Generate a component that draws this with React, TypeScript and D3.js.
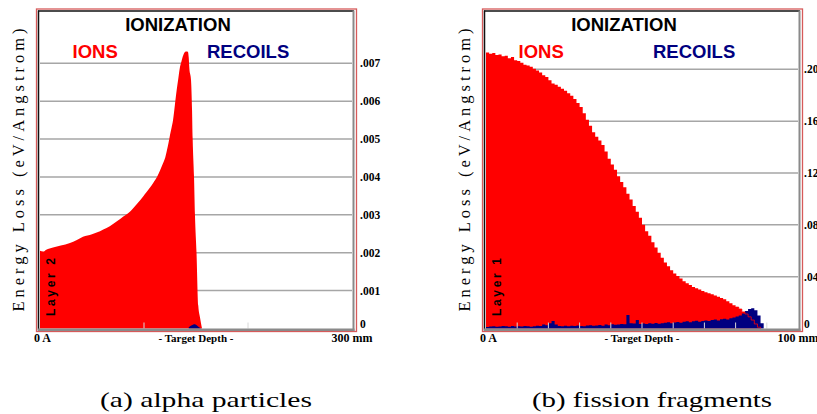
import React from "react";
import * as d3 from "d3";

// ---------- DATA ----------
// (a) alpha particles: depth (0..300) and ionization energy loss
const alphaDepth = [0, 3, 6, 12.5, 20, 28.8, 35, 41.3, 50, 57.7, 64, 70.2, 75, 79.8, 85, 89.4, 94, 99.0, 102.5, 105.8, 109, 112.5, 115.5, 118.3, 120.5, 122.1, 123.6, 125.0, 126.5, 127.9, 129.7, 131.4, 133.0, 134.6, 136.0, 137.2, 138.3, 139.4, 141, 142.3, 143.0, 143.6, 145.2, 146.2, 146.8, 148.1, 149.0, 150.5, 152.2, 153.8, 155.8];
const alphaIons = [0.00205, 0.00203, 0.00208, 0.00214, 0.00219, 0.00226, 0.00233, 0.00242, 0.00249, 0.00257, 0.00265, 0.00276, 0.00285, 0.00295, 0.00305, 0.00317, 0.00331, 0.00348, 0.0036, 0.00372, 0.00385, 0.004, 0.00418, 0.00436, 0.00452, 0.00471, 0.0049, 0.00511, 0.0053, 0.0055, 0.0059, 0.00629, 0.0066, 0.0069, 0.00705, 0.00717, 0.00725, 0.0073, 0.00731, 0.0073, 0.00715, 0.00687, 0.00656, 0.00576, 0.005, 0.004, 0.003, 0.002, 0.0006, 0.0003, 0];
const alphaRecoilDepth = [143, 145, 147, 149, 151, 153, 155];
const alphaRecoils = [0.00003, 0.00007, 0.0001, 0.00011, 0.00008, 0.00003, 0];
const alphaTicks = [0.001, 0.002, 0.003, 0.004, 0.005, 0.006, 0.007];
const alphaTickLabels = [".001", ".002", ".003", ".004", ".005", ".006", ".007"];
const alphaDepthTicks = [100, 200];

// (b) fission fragments: 1-unit depth bins (0..100)
const fissionIons = [
  0.213, 0.212, 0.2125, 0.211, 0.2115, 0.21, 0.2105, 0.2085, 0.2095, 0.207,
  0.2065, 0.205, 0.2035, 0.203, 0.202, 0.2005, 0.199, 0.1975, 0.1955, 0.194,
  0.1915, 0.189, 0.188, 0.1865, 0.185, 0.1835, 0.1815, 0.1795, 0.177, 0.174,
  0.171, 0.166, 0.161, 0.1565, 0.1515, 0.148, 0.145, 0.1415, 0.1365, 0.131,
  0.1265, 0.1225, 0.1175, 0.113, 0.109, 0.104, 0.0995, 0.0945, 0.09, 0.0855,
  0.08, 0.075, 0.0715, 0.0665, 0.0625, 0.0585, 0.0545, 0.051, 0.048, 0.045,
  0.0425, 0.0405, 0.0385, 0.0365, 0.035, 0.0335, 0.032, 0.031, 0.03, 0.029,
  0.028, 0.0272, 0.0265, 0.0255, 0.0245, 0.0235, 0.0225, 0.021, 0.0195, 0.018,
  0.0165, 0.015, 0.0128, 0.0112, 0.009, 0.0065, 0.0035, 0.001,
];
const fissionRecoils = [
  0.0012, 0.0015, 0.0018, 0.0014, 0.0016, 0.002, 0.0017, 0.0013, 0.0019, 0.0015,
  0.0018, 0.0016, 0.002, 0.0017, 0.0014, 0.0018, 0.0022, 0.0019, 0.003, 0.0025,
  0.004, 0.0058, 0.003, 0.002, 0.0018, 0.0022, 0.0017, 0.0021, 0.0019, 0.0024,
  0.002, 0.0018, 0.0023, 0.0026, 0.0021, 0.0024, 0.0027, 0.0022, 0.003, 0.0025,
  0.0032, 0.0028, 0.003, 0.0035, 0.0033, 0.0104, 0.004, 0.0038, 0.0066, 0.0035,
  0.0038, 0.0034, 0.004, 0.0036, 0.0042, 0.0037, 0.004, 0.0044, 0.0048, 0.004,
  0.0046, 0.005, 0.0045, 0.0052, 0.0055, 0.0048, 0.0056, 0.006, 0.0052, 0.0058,
  0.0062, 0.0058, 0.0066, 0.007, 0.0062, 0.0072, 0.0076, 0.007, 0.008, 0.0085,
  0.0092, 0.01, 0.0115, 0.0135, 0.015, 0.0156, 0.014, 0.01, 0.004,
];
const fissionTicks = [0.04, 0.08, 0.12, 0.16, 0.2];
const fissionTickLabels = [".04", ".08", ".12", ".16", ".20"];
const fissionDepthTicks = [10, 20, 30, 40, 50, 60, 70, 80, 90];

const panelLabels = ["Layer 2", "Layer 1"];
const depthMaxLabels = ["300 mm", "100 mm"];
const captions = ["(a) alpha particles", "(b) fission fragments"];

// ---------- STYLE ----------
const SANS = "Liberation Sans, Arial, sans-serif";
const SERIF = "Liberation Serif, Times New Roman, serif";
const ION_RED = "#ff0000";
const RECOIL_NAVY = "#000080";

type Pt = { d: number; v: number };

function toBins(vals: number[]): Pt[] {
  const pts = vals.map((v, i) => ({ d: i, v }));
  pts.push({ d: vals.length, v: 0 });
  return pts;
}

interface PanelProps {
  ox: number;
  xMax: number;
  yTop: number;
  yTopPx: number;
  ions: Pt[];
  recoils: Pt[];
  curve: d3.CurveFactory;
  recCurve: d3.CurveFactory;
  ticks: number[];
  tickLabels: string[];
  depthTicks: number[];
  layer: string;
  depthLabel: string;
  caption: string;
  captionWidth: number;
  labelX: number;
  overlayLine: boolean;
}

function Panel(p: PanelProps) {
  const base = 328.5;
  const x = d3.scaleLinear().domain([0, p.xMax]).range([p.ox + 40, p.ox + 352]);
  const y = d3.scaleLinear().domain([0, p.yTop]).range([base, p.yTopPx]);
  const area = (c: d3.CurveFactory) =>
    d3
      .area<Pt>()
      .x((d) => x(d.d))
      .y0(base)
      .y1((d) => Math.min(base, y(d.v)))
      .curve(c);
  const line = d3
    .line<Pt>()
    .x((d) => x(d.d))
    .y((d) => y(d.v))
    .curve(p.curve);
  const ox = p.ox;
  const [x0, x1] = x.range();
  return (
    <g>
      {/* outer red frame */}
      <rect x={ox + 36.5} y={9} width={320} height={322.5} fill="white" stroke="#d65a5a" strokeWidth={1.3} />
      {/* gridlines */}
      {p.ticks.map((t) => (
        <line key={t} x1={x0} x2={x1} y1={y(t)} y2={y(t)} stroke="#a6a6a6" strokeWidth={1.5} />
      ))}
      {/* ions */}
      <path d={area(p.curve)(p.ions) || ""} fill={ION_RED} />
      {/* recoils */}
      <path d={area(p.recCurve)(p.recoils) || ""} fill={RECOIL_NAVY} />
      {p.overlayLine && (
        <path d={line(p.ions.filter((d) => d.d >= p.xMax * 0.8)) || ""} fill="none" stroke={ION_RED} strokeWidth={0.8} />
      )}
      {/* depth ticks */}
      {p.depthTicks.map((t) => (
        <line key={t} x1={x(t)} x2={x(t)} y1={base - 6} y2={base} stroke="#d8d8d8" strokeWidth={1} />
      ))}
      {/* inner bevel frame */}
      <line x1={ox + 38.5} x2={ox + 38.5} y1={10.5} y2={330.5} stroke="#111" strokeWidth={1.5} />
      <line x1={ox + 38} x2={ox + 354} y1={11} y2={11} stroke="#111" strokeWidth={1.5} />
      <line x1={ox + 353.5} x2={ox + 353.5} y1={10.5} y2={331} stroke="#8a8a8a" strokeWidth={2} />
      <line x1={ox + 38} x2={ox + 354.5} y1={329.8} y2={329.8} stroke="#8a8a8a" strokeWidth={2.4} />
      {/* titles */}
      <text x={ox + 178} y={31} textAnchor="middle" fontFamily={SANS} fontWeight="bold" fontSize={18.5} fill="#000">
        IONIZATION
      </text>
      <text x={ox + 72.5} y={58} fontFamily={SANS} fontWeight="bold" fontSize={18.5} fill={ION_RED}>
        IONS
      </text>
      <text x={ox + 207} y={58} fontFamily={SANS} fontWeight="bold" fontSize={18.5} fill={RECOIL_NAVY}>
        RECOILS
      </text>
      {/* layer label */}
      <text
        transform={`translate(${ox + 54.5},287) rotate(-90)`}
        textAnchor="middle"
        fontFamily={SANS}
        fontWeight="bold"
        fontSize={12}
        textLength={58}
        lengthAdjust="spacing"
        fill="#000"
      >
        {p.layer}
      </text>
      {/* y axis title */}
      <text
        transform={`translate(${ox + 24},170) rotate(-90)`}
        textAnchor="middle"
        fontFamily={SERIF}
        fontSize={16.5}
        textLength={283}
        lengthAdjust="spacing"
        fill="#000"
      >
        Energy Loss (eV/Angstrom)
      </text>
      {/* right tick labels */}
      {p.ticks.map((t, i) => (
        <text key={t} x={p.labelX} y={y(t) + 4} fontFamily={SERIF} fontWeight="bold" fontSize={11.5} fill="#000">
          {p.tickLabels[i]}
        </text>
      ))}
      <text x={p.labelX} y={327.5} fontFamily={SERIF} fontWeight="bold" fontSize={11.5} fill="#000">
        0
      </text>
      {/* depth labels */}
      <text x={ox + 34} y={342} fontFamily={SERIF} fontWeight="bold" fontSize={12} fill="#000">
        0 A
      </text>
      <text x={(x0 + x1) / 2} y={342} textAnchor="middle" fontFamily={SERIF} fontWeight="bold" fontSize={11} fill="#000">
        - Target Depth -
      </text>
      <text x={x1} y={342} textAnchor="middle" fontFamily={SERIF} fontWeight="bold" fontSize={12} fill="#000">
        {p.depthLabel}
      </text>
      {/* caption */}
      <text
        x={ox + 206}
        y={407}
        textAnchor="middle"
        fontFamily={SERIF}
        fontSize={21}
        textLength={p.captionWidth}
        lengthAdjust="spacingAndGlyphs"
        fill="#000"
      >
        {p.caption}
      </text>
    </g>
  );
}

export default function App() {
  const alphaIonPts: Pt[] = alphaDepth.map((d, i) => ({ d, v: alphaIons[i] }));
  const alphaRecPts: Pt[] = alphaRecoilDepth.map((d, i) => ({ d, v: alphaRecoils[i] }));
  return (
    <svg
      width={817}
      height={414}
      style={{ position: "fixed", left: 0, top: 0, background: "#fff" }}
      xmlns="http://www.w3.org/2000/svg"
    >
      <rect width={817} height={414} fill="#fff" />
      <Panel
        ox={0}
        xMax={300}
        yTop={0.007}
        yTopPx={63.3}
        ions={alphaIonPts}
        recoils={alphaRecPts}
        curve={d3.curveMonotoneX}
        recCurve={d3.curveMonotoneX}
        ticks={alphaTicks}
        tickLabels={alphaTickLabels}
        depthTicks={alphaDepthTicks}
        layer={panelLabels[0]}
        depthLabel={depthMaxLabels[0]}
        caption={captions[0]}
        captionWidth={212}
        labelX={360}
        overlayLine={false}
      />
      <Panel
        ox={446}
        xMax={100}
        yTop={0.2}
        yTopPx={69.3}
        ions={toBins(fissionIons)}
        recoils={toBins(fissionRecoils)}
        curve={d3.curveStepAfter}
        recCurve={d3.curveStepAfter}
        ticks={fissionTicks}
        tickLabels={fissionTickLabels}
        depthTicks={fissionDepthTicks}
        layer={panelLabels[1]}
        depthLabel={depthMaxLabels[1]}
        caption={captions[1]}
        captionWidth={240}
        labelX={804}
        overlayLine={true}
      />
    </svg>
  );
}
